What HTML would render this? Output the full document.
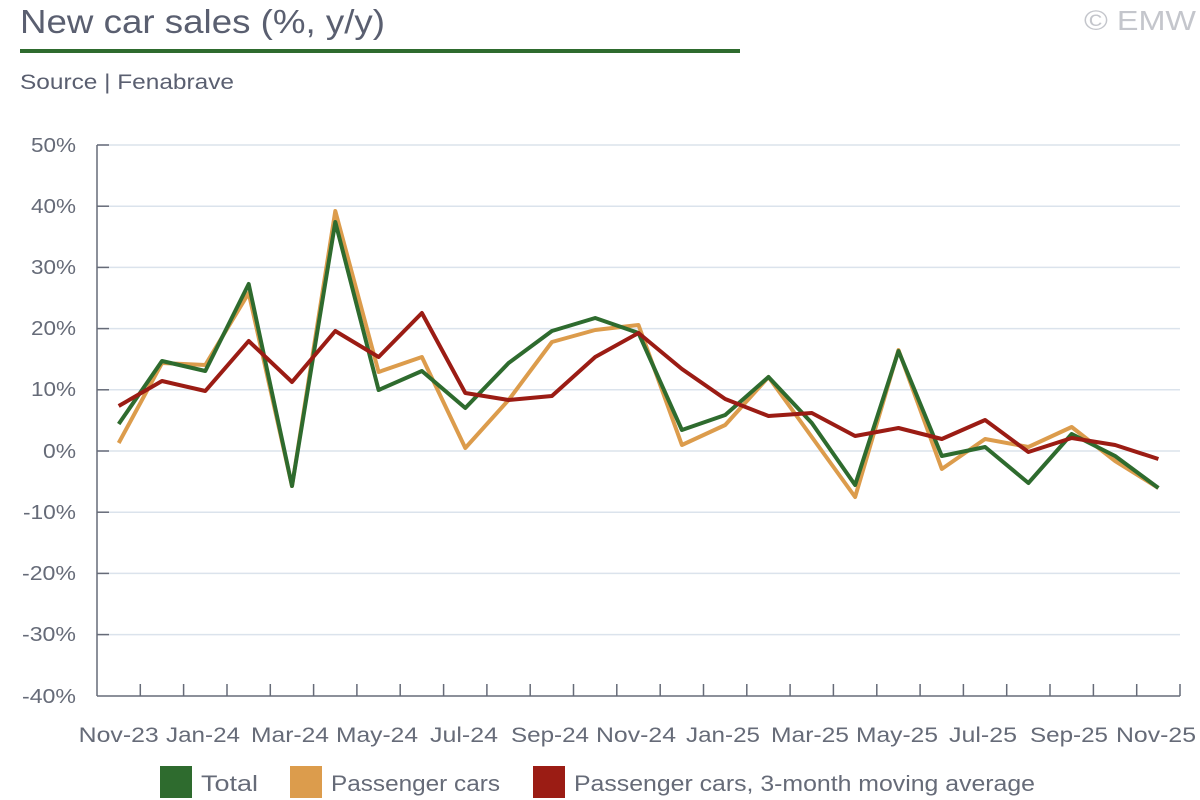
<!DOCTYPE html>
<html><head><meta charset="utf-8"><style>
body{margin:0;background:#fff;}
svg{display:block;font-family:"Liberation Sans",sans-serif;}
</style></head><body>
<svg width="1200" height="800" viewBox="0 0 1200 800">
<text x="20" y="33" font-size="33" fill="#5a5f70" textLength="365" lengthAdjust="spacingAndGlyphs">New car sales (%, y/y)</text>
<rect x="20" y="49" width="720" height="4" fill="#2e6b2e"/>
<text x="1196" y="30" font-size="28" fill="#c4c6cc" text-anchor="end" textLength="112" lengthAdjust="spacingAndGlyphs">© EMW</text>
<text x="20" y="89" font-size="21" fill="#5a5f70" textLength="214" lengthAdjust="spacingAndGlyphs">Source | Fenabrave</text>
<g stroke="#dbe3ec" stroke-width="1.5">
<line x1="97" x2="1180" y1="145" y2="145"/><line x1="97" x2="1180" y1="206.2" y2="206.2"/>
<line x1="97" x2="1180" y1="267.4" y2="267.4"/><line x1="97" x2="1180" y1="328.6" y2="328.6"/>
<line x1="97" x2="1180" y1="389.8" y2="389.8"/><line x1="97" x2="1180" y1="451" y2="451"/>
<line x1="97" x2="1180" y1="512.2" y2="512.2"/><line x1="97" x2="1180" y1="573.4" y2="573.4"/>
<line x1="97" x2="1180" y1="634.6" y2="634.6"/>
</g>
<g stroke="#666b78" stroke-width="1.5">
<line x1="97" x2="97" y1="145" y2="696"/>
<line x1="97" x2="1180" y1="696" y2="696"/>
<line x1="97" x2="109" y1="145" y2="145"/><line x1="97" x2="109" y1="206.2" y2="206.2"/>
<line x1="97" x2="109" y1="267.4" y2="267.4"/><line x1="97" x2="109" y1="328.6" y2="328.6"/>
<line x1="97" x2="109" y1="389.8" y2="389.8"/><line x1="97" x2="109" y1="451" y2="451"/>
<line x1="97" x2="109" y1="512.2" y2="512.2"/><line x1="97" x2="109" y1="573.4" y2="573.4"/>
<line x1="97" x2="109" y1="634.6" y2="634.6"/>
<path d="M140.3 684V696M183.6 684V696M227 684V696M270.3 684V696M313.6 684V696M356.9 684V696M400.2 684V696M443.6 684V696M486.9 684V696M530.2 684V696M573.5 684V696M616.8 684V696M660.2 684V696M703.5 684V696M746.8 684V696M790.1 684V696M833.4 684V696M876.8 684V696M920.1 684V696M963.4 684V696M1006.7 684V696M1050 684V696M1093.4 684V696M1136.7 684V696M1180 684V696"/>
</g>
<g font-size="20" fill="#666b78" text-anchor="end">
<text x="76" y="152" textLength="45" lengthAdjust="spacingAndGlyphs">50%</text><text x="76" y="213" textLength="45" lengthAdjust="spacingAndGlyphs">40%</text><text x="76" y="274" textLength="45" lengthAdjust="spacingAndGlyphs">30%</text>
<text x="76" y="335" textLength="45" lengthAdjust="spacingAndGlyphs">20%</text><text x="76" y="396" textLength="45" lengthAdjust="spacingAndGlyphs">10%</text><text x="76" y="458" textLength="33" lengthAdjust="spacingAndGlyphs">0%</text>
<text x="76" y="519" textLength="53" lengthAdjust="spacingAndGlyphs">-10%</text><text x="76" y="580" textLength="54" lengthAdjust="spacingAndGlyphs">-20%</text><text x="76" y="641" textLength="54" lengthAdjust="spacingAndGlyphs">-30%</text>
<text x="76" y="703" textLength="54" lengthAdjust="spacingAndGlyphs">-40%</text>
</g>
<g font-size="21" fill="#666b78" text-anchor="middle" lengthAdjust="spacingAndGlyphs">
<text x="118.7" y="742" textLength="80" lengthAdjust="spacingAndGlyphs">Nov-23</text><text x="203" y="742" textLength="74" lengthAdjust="spacingAndGlyphs">Jan-24</text><text x="290" y="742" textLength="78" lengthAdjust="spacingAndGlyphs">Mar-24</text>
<text x="377" y="742" textLength="82" lengthAdjust="spacingAndGlyphs">May-24</text><text x="464" y="742" textLength="68" lengthAdjust="spacingAndGlyphs">Jul-24</text><text x="550" y="742" textLength="78" lengthAdjust="spacingAndGlyphs">Sep-24</text>
<text x="636" y="742" textLength="80" lengthAdjust="spacingAndGlyphs">Nov-24</text><text x="723" y="742" textLength="74" lengthAdjust="spacingAndGlyphs">Jan-25</text><text x="810" y="742" textLength="78" lengthAdjust="spacingAndGlyphs">Mar-25</text>
<text x="897" y="742" textLength="82" lengthAdjust="spacingAndGlyphs">May-25</text><text x="983" y="742" textLength="68" lengthAdjust="spacingAndGlyphs">Jul-25</text><text x="1069" y="742" textLength="78" lengthAdjust="spacingAndGlyphs">Sep-25</text>
<text x="1156" y="742" textLength="80" lengthAdjust="spacingAndGlyphs">Nov-25</text>
</g>
<g fill="none" stroke-width="4" stroke-linejoin="round">
<polyline stroke="#dc9c4c" points="118.7,443 162,363 205.3,365 248.7,293 292,486 335.3,211 378.6,372 421.9,357 465.3,448 508.6,400 551.9,342 595.2,330 638.5,325 681.9,445 725.2,425 768.5,377 811.8,437 855.1,497 898.5,350 941.8,469 985.1,439 1028.4,447 1071.7,427 1115.1,461 1158.4,488"/>
<polyline stroke="#2e6b2e" points="118.7,424 162,361 205.3,371 248.7,284 292,486 335.3,222 378.6,390 421.9,371 465.3,408 508.6,363 551.9,331 595.2,318 638.5,333 681.9,430 725.2,415 768.5,377 811.8,423 855.1,485 898.5,351 941.8,456 985.1,447 1028.4,483 1071.7,434 1115.1,456 1158.4,488"/>
<polyline stroke="#9b1c14" points="118.7,406 162,381 205.3,391 248.7,341 292,382 335.3,331 378.6,357 421.9,313 465.3,393 508.6,400 551.9,396 595.2,357 638.5,333 681.9,369 725.2,399 768.5,416 811.8,413 855.1,436 898.5,428 941.8,439 985.1,420 1028.4,452 1071.7,438 1115.1,445 1158.4,459"/>
</g>
<rect x="160" y="766" width="32" height="32" fill="#2e6b2e"/>
<text x="201" y="791" font-size="22" fill="#666b78" textLength="57" lengthAdjust="spacingAndGlyphs">Total</text>
<rect x="290" y="766" width="32" height="32" fill="#dc9c4c"/>
<text x="331" y="791" font-size="22" fill="#666b78" textLength="169" lengthAdjust="spacingAndGlyphs">Passenger cars</text>
<rect x="533" y="766" width="32" height="32" fill="#9b1c14"/>
<text x="574" y="791" font-size="22" fill="#666b78" textLength="461" lengthAdjust="spacingAndGlyphs">Passenger cars, 3-month moving average</text>
</svg>
</body></html>
